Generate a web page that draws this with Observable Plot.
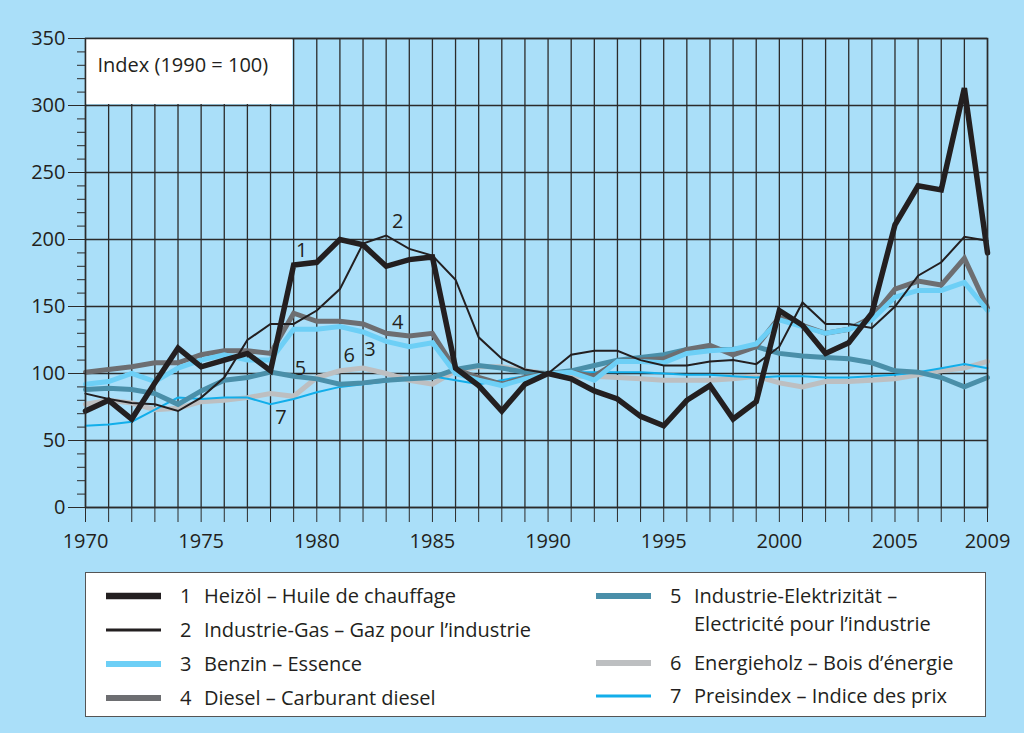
<!DOCTYPE html>
<html><head><meta charset="utf-8">
<script src="https://cdn.jsdelivr.net/npm/d3@7"></script>
<script src="https://cdn.jsdelivr.net/npm/@observablehq/plot@0.6"></script>
<style>
html,body{margin:0;padding:0;background:#aadff9;width:1024px;height:733px;overflow:hidden;}
body{font-family:"Open Sans",sans-serif;color:#231f20;position:relative;}
#chart{position:absolute;left:0;top:0;}
#legend{position:absolute;left:85px;top:572px;width:901px;height:145px;background:#fff;border:1px solid #555;box-sizing:border-box;font-size:20px;}
.item{position:absolute;display:flex;align-items:flex-start;line-height:28px;}
.item svg{margin-top:6px;}
.num{width:24px;}
</style></head>
<body>
<div id="chart"></div>
<div id="legend"></div>
<script>
const years = d3.range(1970, 2010);
const heizoel = [72,80,66,93,119,105,110,115,102,181, 183,200,196,180,185,187,104,91,72,92, 100,96,87,81,68,61,80,91,66,79, 147,136,115,123,145,211,240,237,313,190];
const gas     = [85,81,78,77,72,82,97,125,137,137, 147,163,197,203,193,188,170,127,111,103, 100,114,117,117,110,106,106,109,110,107, 120,153,137,137,134,150,173,183,202,199];
const benzin  = [92,94,100,94,104,110,114,110,110,133, 133,135,131,124,120,123,100,95,91,96, 100,101,95,109,109,108,115,117,118,122, 140,135,130,133,140,157,162,162,168,147];
const diesel  = [101,103,105,108,108,114,117,117,115,145, 139,139,137,130,128,130,103,97,92,97, 100,101,98,109,110,111,118,121,114,120, 142,136,130,133,142,163,169,166,186,149];
const elektr  = [88,89,88,85,77,87,95,97,101,98, 96,92,93,95,96,97,103,106,104,101, 100,102,106,110,112,114,118,118,118,120, 115,113,112,111,108,102,101,97,90,97];
const holz    = [77,80,78,73,74,79,80,82,85,83, 97,102,104,100,95,92,102,105,105,102, 100,98,98,97,96,95,95,95,96,98, 93,90,94,94,95,96,99,102,104,109];
const preis   = [61,62,64,73,82,81,82,82,77,81, 86,90,92,94,96,98,95,92,95,98, 100,101,101,101,101,100,99,99,98,97, 98,98,97,97,98,99,101,104,107,104];

const seriesNames = ["Heizöl – Huile de chauffage","Industrie-Gas – Gaz pour l’industrie","Benzin – Essence","Diesel – Carburant diesel","Industrie-Elektrizität – Electricité pour l’industrie","Energieholz – Bois d’énergie","Preisindex – Indice des prix"];
const seriesValues = [heizoel, gas, benzin, diesel, elektr, holz, preis];
const seriesColors = ["#231f20","#231f20","#6dcff6","#6d6e71","#4a8fa9","#bdbfc1","#12aeea"];
const seriesWidths = [5.5, 2, 5, 5, 5, 5, 2];
const drawOrder = [5, 6, 4, 3, 2, 1, 0];

const xLabelYears = [1970,1975,1980,1985,1990,1995,2000,2005,2009];
const yMajor = d3.range(0, 351, 50);
const yMinor = d3.range(0, 351, 10).filter(v => v % 50 !== 0);

// inline number labels: [series number, year, value]
const lineLabels = [["1",1979.35,192],["2",1983.5,213],["3",1982.3,118],["4",1983.5,138],["5",1979.3,104],["6",1981.4,113],["7",1978.45,67]];
const indexBox = [{x1:1970, x2:1979, y1:300, y2:350}];
const indexText = "Index (1990 = 100)";

const marks = [
  Plot.gridY(yMajor, {stroke:"#2b2b2b", strokeOpacity:1, strokeWidth:1.3}),
  Plot.gridX(years, {stroke:"#2b2b2b", strokeOpacity:1, strokeWidth:1.3}),
  Plot.rect(indexBox, {x1:"x1", x2:"x2", y1:"y1", y2:"y2", fill:"white", insetRight:1, insetBottom:1, insetLeft:1, insetTop:1}),
  Plot.text([indexText], {x:1970, y:330, text:d=>d, textAnchor:"start", dx:12, fontSize:20, fill:"#231f20"}),
];
for (const i of drawOrder) {
  const data = years.map((y, j) => ({year:y, value:seriesValues[i][j]}));
  marks.push(Plot.line(data, {x:"year", y:"value", stroke:seriesColors[i], strokeWidth:seriesWidths[i], strokeLinejoin:"miter", strokeMiterlimit:3}));
}
marks.push(
  Plot.text(lineLabels, {x:d=>d[1], y:d=>d[2], text:d=>d[0], fontSize:20, fill:"#231f20"}),
  Plot.frame({stroke:"#2b2b2b", strokeWidth:1.5}),
  Plot.axisY(yMinor, {tickSize:8, tickFormat:()=>"", stroke:"#2b2b2b"}),
  Plot.axisY(yMajor, {tickSize:17, tickPadding:3, stroke:"#2b2b2b", fontSize:20, fill:"#231f20"}),
  Plot.axisX(years, {tickSize:15, tickPadding:11, tickFormat:d => xLabelYears.includes(d) ? String(d) : "", stroke:"#2b2b2b", fontSize:20, fill:"#231f20"})
);

const chart = Plot.plot({
  width:1024, height:565,
  marginLeft:85, marginRight:37, marginTop:38, marginBottom:58,
  style:{background:"transparent", fontFamily:"Open Sans, sans-serif", fontSize:"20px", color:"#231f20"},
  x:{domain:[1970,2009]},
  y:{domain:[0,350]},
  marks
});
document.getElementById("chart").appendChild(chart);

// Legend
const legend = document.getElementById("legend");
const legendLayout = [
  {i:0, left:20, top:9}, {i:1, left:20, top:43}, {i:2, left:20, top:77}, {i:3, left:20, top:111},
  {i:4, left:510, top:9}, {i:5, left:510, top:76}, {i:6, left:510, top:109}
];
for (const {i, left, top} of legendLayout) {
  const div = document.createElement("div");
  div.className = "item";
  div.style.left = left + "px";
  div.style.top = top + "px";
  const sw = `<svg width="74" height="16"><line x1="0" x2="55" y1="8" y2="8" stroke="${seriesColors[i]}" stroke-width="${seriesWidths[i]+1}"/></svg>`;
  let label = seriesNames[i];
  if (i === 4) label = "Industrie-Elektrizität –<br>Electricité pour l’industrie";
  div.innerHTML = sw + `<span class="num">${i+1}</span><span>${label}</span>`;
  legend.appendChild(div);
}
</script>
</body></html>
